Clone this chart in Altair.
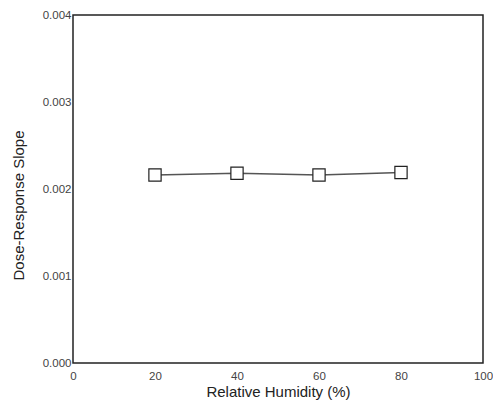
import altair as alt
import pandas as pd

humidity = [20, 40, 60, 80]
slope = [0.00216, 0.00218, 0.00216, 0.00219]

df = pd.DataFrame({"rh": humidity, "slope": slope})

x = alt.X("rh:Q", title="Relative Humidity (%)",
          scale=alt.Scale(domain=[0, 100], nice=False),
          axis=alt.Axis(values=[0, 20, 40, 60, 80, 100], grid=False, ticks=False,
                        domain=False, labelFlush=False, labelPadding=7, titlePadding=3))
y = alt.Y("slope:Q", title="Dose-Response Slope",
          scale=alt.Scale(domain=[0, 0.004], nice=False),
          axis=alt.Axis(values=[0, 0.001, 0.002, 0.003, 0.004], format=".3f", grid=False,
                        ticks=False, domain=False, labelFlush=False, labelPadding=2,
                        titleX=-47, titleY=190))

line = alt.Chart(df).mark_line(color="#555555", strokeWidth=1.5).encode(x=x, y=y)
pts = alt.Chart(df).mark_point(shape="square", size=150, filled=True, fill="white",
                               stroke="#222222", strokeWidth=1.2, opacity=1).encode(x=x, y=y)

chart = (line + pts).properties(
    width=410, height=348,
    autosize=alt.AutoSizeParams(type="none"),
    padding={"left": 65, "top": 7, "right": 10, "bottom": 38},
).configure_view(stroke="#222222", strokeWidth=1.5).configure_axis(
    labelFont="Liberation Sans", labelFontSize=11.5, labelColor="#444444",
    titleFont="Liberation Sans", titleFontSize=15, titleFontWeight="normal", titleColor="#222222"
)

chart.save("out.html", embed_options={"renderer": "svg", "actions": False})
